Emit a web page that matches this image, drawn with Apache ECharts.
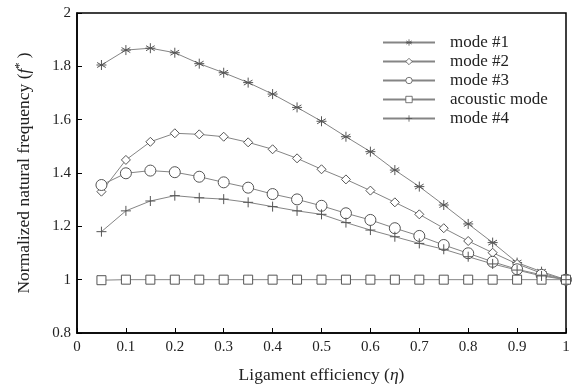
<!DOCTYPE html>
<html>
<head>
<meta charset="utf-8">
<script src="https://cdn.jsdelivr.net/npm/echarts@6/dist/echarts.min.js"></script>
<style>
  html, body { margin: 0; padding: 0; background: #fff; }
  #chart { width: 579px; height: 386px; }
</style>
</head>
<body>
<div id="chart"></div>
<script>
const eta = [0.05, 0.1, 0.15, 0.2, 0.25, 0.3, 0.35, 0.4, 0.45, 0.5,
             0.55, 0.6, 0.65, 0.7, 0.75, 0.8, 0.85, 0.9, 0.95, 1.0];

const mode1 = [1.805, 1.861, 1.868, 1.851, 1.81, 1.776, 1.739, 1.696, 1.646, 1.594,
               1.536, 1.48, 1.411, 1.349, 1.28, 1.209, 1.139, 1.064, 1.03, 1.0];
const mode2 = [1.33, 1.449, 1.517, 1.549, 1.545, 1.536, 1.515, 1.489, 1.455, 1.414,
               1.376, 1.334, 1.29, 1.245, 1.193, 1.145, 1.101, 1.059, 1.024, 1.0];
const mode3 = [1.355, 1.399, 1.409, 1.403, 1.386, 1.365, 1.345, 1.321, 1.301, 1.277,
               1.249, 1.224, 1.193, 1.164, 1.13, 1.099, 1.067, 1.039, 1.018, 1.0];
const acoustic = [0.998, 1.0, 1.0, 1.0, 1.0, 1.0, 1.0, 1.0, 1.0, 1.0,
                  1.0, 1.0, 1.0, 1.0, 1.0, 1.0, 1.0, 1.0, 1.0, 1.0];
const mode4 = [1.18, 1.258, 1.295, 1.315, 1.307, 1.302, 1.29, 1.274, 1.258, 1.245,
               1.214, 1.186, 1.161, 1.136, 1.114, 1.086, 1.059, 1.036, 1.014, 1.0];

const pair = arr => arr.map((v, i) => [eta[i], v]);

const font = 'Liberation Serif';
const lineGrey = '#858585';

const mkSeries = (name, data, symbol, size) => ({
  name: name,
  type: 'line',
  data: pair(data),
  symbol: symbol,
  symbolSize: size,
  showSymbol: true,
  lineStyle: { color: lineGrey, width: 1 },
  itemStyle: { color: '#fff', borderColor: '#555', borderWidth: 1 },
  emphasis: { disabled: true },
  z: 2
});

const chart = echarts.init(document.getElementById('chart'));
chart.setOption({
  animation: false,
  backgroundColor: '#fff',
  textStyle: { fontFamily: font },
  grid: {
    left: 77, right: 13, top: 13, bottom: 53,
    outerBoundsMode: 'none', containLabel: false,
    show: true, borderColor: '#000', borderWidth: 1.5
  },
  legend: {
    orient: 'vertical',
    left: 377, top: 29,
    itemWidth: 52, itemHeight: 8, itemGap: 2,
    itemStyle: { borderWidth: 0.8 },
    textStyle: { fontFamily: font, fontSize: 17, color: '#222', padding: [0, 0, 0, 10] },
    data: ['mode #1', 'mode #2', 'mode #3', 'acoustic mode', 'mode #4']
  },
  xAxis: {
    type: 'value', min: 0, max: 1, interval: 0.1,
    axisLine: { lineStyle: { color: '#000', width: 1.5 } },
    axisTick: { inside: true, length: 5, lineStyle: { color: '#000' } },
    splitLine: { show: false },
    axisLabel: { color: '#222', fontSize: 15, fontFamily: font, margin: 7 },
    name: '{a|Ligament efficiency (}{i|η}{a|)}',
    nameLocation: 'middle', nameGap: 33,
    nameTextStyle: {
      rich: {
        a: { fontFamily: font, fontSize: 17.5, color: '#222' },
        i: { fontFamily: font, fontSize: 17.5, color: '#222', fontStyle: 'italic' }
      }
    }
  },
  yAxis: {
    type: 'value', min: 0.8, max: 2, interval: 0.2,
    axisLine: { show: true, lineStyle: { color: '#000', width: 1.5 } },
    axisTick: { show: true, inside: true, length: 5, lineStyle: { color: '#000' } },
    splitLine: { show: false },
    axisLabel: { color: '#222', fontSize: 15, fontFamily: font, margin: 6 },
    name: '{a|Normalized natural frequency (}{i|f}{s|*}{a| )}',
    nameLocation: 'middle', nameGap: 43, nameRotate: 90,
    nameTextStyle: {
      rich: {
        a: { fontFamily: font, fontSize: 17.5, color: '#222' },
        i: { fontFamily: font, fontSize: 17.5, color: '#222', fontStyle: 'italic' },
        s: { fontFamily: font, fontSize: 12, color: '#222', verticalAlign: 'top', padding: [0, 0, 8, 0] }
      }
    }
  },
  series: [
    mkSeries('mode #1', mode1, 'path://M0,-10L0,10M-8.7,-5L8.7,5M-8.7,5L8.7,-5M-10,0L10,0', 10),
    mkSeries('mode #2', mode2, 'diamond', 9),
    mkSeries('mode #3', mode3, 'circle', 11),
    mkSeries('acoustic mode', acoustic, 'rect', 9),
    mkSeries('mode #4', mode4, 'path://M0,-10L0,10M-10,0L10,0', 10)
  ]
});
</script>
</body>
</html>
